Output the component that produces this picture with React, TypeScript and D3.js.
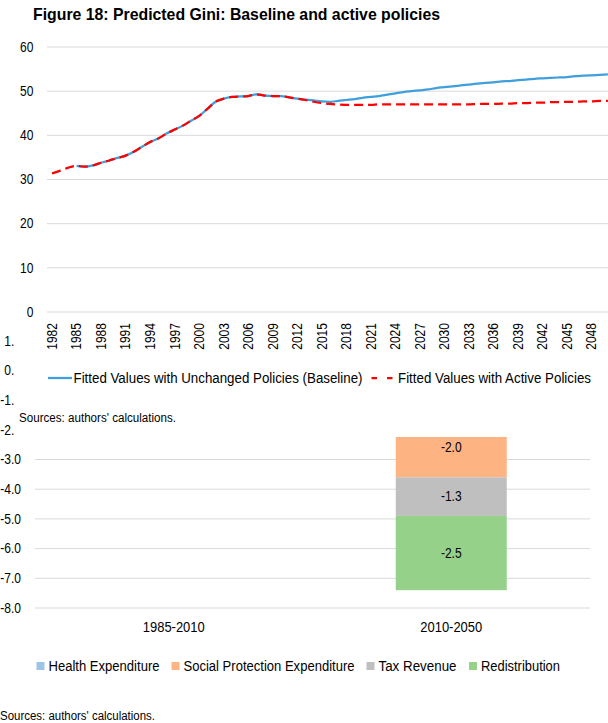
import React from "react";
import * as d3 from "d3";

// ---------- Top chart data ----------
const years: string[] = [
  "1982","1983","1984","1985","1986","1987","1988","1989","1990","1991",
  "1992","1993","1994","1995","1996","1997","1998","1999","2000","2001",
  "2002","2003","2004","2005","2006","2007","2008","2009","2010","2011",
  "2012","2013","2014","2015","2016","2017","2018","2019","2020","2021",
  "2022","2023","2024","2025","2026","2027","2028","2029","2030","2031",
  "2032","2033","2034","2035","2036","2037","2038","2039","2040","2041",
  "2042","2043","2044","2045","2046","2047","2048","2049","2050"
];

const activeValues: number[] = [
  31.4, 32.0, 32.7, 33.1, 32.9, 33.2, 33.8, 34.3, 34.9, 35.4,
  36.3, 37.4, 38.5, 39.3, 40.4, 41.3, 42.2, 43.3, 44.4, 46.0,
  47.6, 48.3, 48.7, 48.8, 48.9, 49.3, 49.0, 48.9, 48.9, 48.6,
  48.3, 48.0, 47.6, 47.3, 47.1, 47.0, 46.9, 46.9, 46.9, 46.9,
  47.0, 47.0, 47.0, 47.0, 47.0, 47.0, 47.0, 47.0, 47.0, 47.0,
  47.0, 47.0, 47.1, 47.1, 47.1, 47.2, 47.2, 47.3, 47.3, 47.4,
  47.4, 47.5, 47.5, 47.6, 47.6, 47.7, 47.7, 47.8, 47.8
];

const baselineValues: (number | null)[] = [
  null, null, null, 33.1, 32.9, 33.2, 33.8, 34.3, 34.9, 35.4,
  36.3, 37.4, 38.5, 39.3, 40.4, 41.3, 42.2, 43.3, 44.4, 46.0,
  47.6, 48.3, 48.7, 48.8, 48.9, 49.3, 49.0, 48.9, 48.9, 48.6,
  48.3, 48.1, 47.9, 47.7, 47.6, 47.8, 48.0, 48.2, 48.5, 48.7,
  48.9, 49.2, 49.5, 49.8, 50.0, 50.2, 50.4, 50.7, 50.9, 51.1,
  51.3, 51.5, 51.7, 51.9, 52.0, 52.2, 52.3, 52.5, 52.6, 52.8,
  52.9, 53.0, 53.1, 53.2, 53.4, 53.5, 53.6, 53.7, 53.8
];

const topYTicks: number[] = [0, 10, 20, 30, 40, 50, 60];
const lineSeriesNames: string[] = [
  "Fitted Values with Unchanged Policies (Baseline)",
  "Fitted Values with Active Policies",
];

// ---------- Bottom chart data ----------
const periods: string[] = ["1985-2010", "2010-2050"];
const componentNames: string[] = [
  "Health Expenditure",
  "Social Protection Expenditure",
  "Tax Revenue",
  "Redistribution",
];
const healthValues: number[] = [0, -1.6];
const socialValues: number[] = [0, -2.0];
const taxValues: number[] = [0, -1.3];
const redistributionValues: number[] = [0, -2.5];
const bottomYTicks: number[] = [1, 0, -1, -2, -3, -4, -5, -6, -7, -8];

const FONT = "'Liberation Sans', Arial, sans-serif";
const GRID = "#d9d9d9";
const BLUE = "#3e9fdc";
const RED = "#ff0000";
const barColors = ["#9dc3e6", "#fdb382", "#bfbfbf", "#96d18a"];
const NARROW = 0.86;

const fmt1 = (v: number) => d3.format(".1f")(v).replace("\u2212", "-");

export default function App() {
  const W = 608, H = 723;

  // ----- bottom chart -----
  const by = d3.scaleLinear().domain([-8, 1]).range([608, 340.7]);
  const bx = d3.scaleBand().domain(periods).range([35, 590]).paddingInner(0.6).paddingOuter(0.3);
  const table = periods.map((p, i) => ({
    period: p,
    [componentNames[0]]: healthValues[i],
    [componentNames[1]]: socialValues[i],
    [componentNames[2]]: taxValues[i],
    [componentNames[3]]: redistributionValues[i],
  }));
  const stacked = d3.stack<any>().keys(componentNames).offset(d3.stackOffsetDiverging)(table);

  const legendX = [36.5, 171.5, 366.5, 469];
  const legendW = [111, 171, 78, 79];

  // ----- top chart -----
  const ty = d3.scaleLinear().domain([0, 60]).range([312, 47]);
  const tx = d3.scaleBand().domain(years).range([48, 612]).padding(0);
  const cx = (yr: string) => (tx(yr) as number) + tx.bandwidth() / 2;
  const line = d3.line<any>()
    .defined((d) => d.v != null)
    .x((d) => cx(d.y))
    .y((d) => ty(d.v))
    .curve(d3.curveMonotoneX);
  const baseData = years.map((y, i) => ({ y, v: baselineValues[i] }));
  const actData = years.map((y, i) => ({ y, v: activeValues[i] }));
  const tickYears = years.filter((_, i) => i % 3 === 0);

  return (
    <svg width={W} height={H} style={{ position: "absolute", left: 0, top: 0, background: "#fff" }} fontFamily={FONT}>
      <rect x={0} y={0} width={W} height={H} fill="#fff" />
      {/* ================= Bottom chart ================= */}
      <g>
        {bottomYTicks.map((t) => (
          <g key={t}>
            <line x1={35} x2={590} y1={by(t)} y2={by(t)} stroke={GRID} strokeWidth={1} />
            <text transform={`translate(21,${by(t)}) scale(${NARROW},1)`} textAnchor="end" dominantBaseline="central" fontSize={14} fill="#000">
              {fmt1(t)}
            </text>
          </g>
        ))}
        {stacked.map((s, si) => (
          <g key={s.key}>
            {s.map((d: any, di: number) => {
              const v = d.data[s.key];
              if (!v) return null;
              const y0 = by(d[0]), y1 = by(d[1]);
              const top = Math.min(y0, y1), h = Math.abs(y1 - y0);
              const x = bx(d.data.period) as number;
              return (
                <g key={di}>
                  <rect x={x} y={top} width={bx.bandwidth()} height={h} fill={barColors[si]} />
                  <text transform={`translate(${x + bx.bandwidth() / 2},${top + h / 2}) scale(${NARROW},1)`} textAnchor="middle" dominantBaseline="central" fontSize={14} fill="#000">
                    {fmt1(v)}
                  </text>
                </g>
              );
            })}
          </g>
        ))}
        {periods.map((p) => (
          <text key={p} x={(bx(p) as number) + bx.bandwidth() / 2} y={627} textAnchor="middle" dominantBaseline="central" fontSize={14} fill="#000" textLength={62} lengthAdjust="spacingAndGlyphs">
            {p}
          </text>
        ))}
        {componentNames.map((n, i) => (
          <g key={n}>
            <rect x={legendX[i]} y={662} width={8} height={8} fill={barColors[i]} />
            <text x={legendX[i] + 12} y={666} dominantBaseline="central" fontSize={14} fill="#000" textLength={legendW[i]} lengthAdjust="spacingAndGlyphs">{n}</text>
          </g>
        ))}
        <text x={0} y={716} dominantBaseline="central" fontSize={12} fill="#000" textLength={155} lengthAdjust="spacingAndGlyphs">Sources: authors' calculations.</text>
      </g>

      {/* ================= Top chart (overlay) ================= */}
      <g>
        <rect x={14} y={0} width={W - 14} height={437} fill="#fff" />
        <text x={33} y={20} fontSize={17} fontWeight="bold" fill="#000" textLength={407} lengthAdjust="spacingAndGlyphs">
          Figure 18: Predicted Gini: Baseline and active policies
        </text>
        {topYTicks.map((t) => (
          <g key={t}>
            <line x1={47} x2={W} y1={ty(t)} y2={ty(t)} stroke={GRID} strokeWidth={1} />
            <text transform={`translate(33.5,${ty(t)}) scale(${NARROW},1)`} textAnchor="end" dominantBaseline="central" fontSize={14} fill="#000">{t}</text>
          </g>
        ))}
        {tickYears.map((yr) => (
          <text key={yr} transform={`translate(${cx(yr)},323) rotate(-90) scale(${NARROW},1)`} textAnchor="end" dominantBaseline="central" fontSize={14} fill="#000">
            {yr}
          </text>
        ))}
        <path d={line(baseData) || ""} fill="none" stroke={BLUE} strokeWidth={2.25} />
        <path d={line(actData) || ""} fill="none" stroke={RED} strokeWidth={2.25} strokeDasharray="9,5" />
        {/* legend */}
        <line x1={48} x2={72} y1={378} y2={378} stroke={BLUE} strokeWidth={2.25} />
        <text x={73.5} y={378} dominantBaseline="central" fontSize={14} fill="#000" textLength={289} lengthAdjust="spacingAndGlyphs">{lineSeriesNames[0]}</text>
        <line x1={371.5} x2={393.5} y1={378} y2={378} stroke={RED} strokeWidth={2.25} strokeDasharray="5.5,10" />
        <text x={398} y={378} dominantBaseline="central" fontSize={14} fill="#000" textLength={193} lengthAdjust="spacingAndGlyphs">{lineSeriesNames[1]}</text>
        <text x={19} y={418} dominantBaseline="central" fontSize={12} fill="#000" textLength={157} lengthAdjust="spacingAndGlyphs">Sources: authors' calculations.</text>
      </g>
    </svg>
  );
}
